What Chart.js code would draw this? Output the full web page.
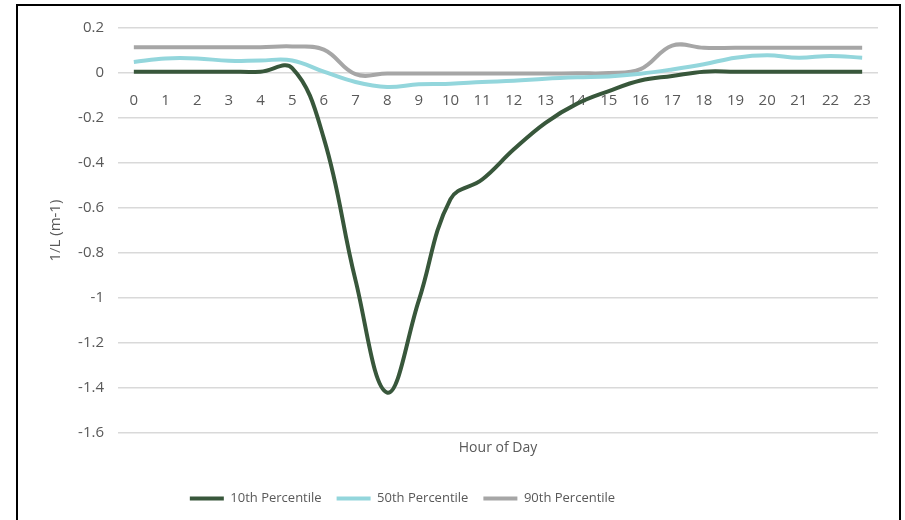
<!DOCTYPE html>
<html>
<head>
<meta charset="utf-8">
<script src="https://cdn.jsdelivr.net/npm/chart.js@4.4.1/dist/chart.umd.min.js"></script>
<style>
  html, body { margin: 0; padding: 0; background: #fff; }
  #wrap { position: relative; width: 905px; height: 520px; overflow: hidden; }
  #frame { position: absolute; left: 16px; top: 4px; width: 881px; height: 540px; border: 2px solid #000; }
  #box { position: absolute; left: 0; top: 0; width: 905px; height: 520px; }
</style>
</head>
<body>
<div id="wrap">
  <div id="frame"></div>
  <div id="box"><canvas id="myChart" width="905" height="520"></canvas></div>
</div>
<script>
// hours on the x axis
const hours = ['0','1','2','3','4','5','6','7','8','9','10','11','12','13','14','15','16','17','18','19','20','21','22','23'];

// 1/L values
const p10 = [0.006, 0.006, 0.006, 0.006, 0.006, 0.022, -0.29, -0.92, -1.42, -1.01, -0.56, -0.473, -0.339, -0.221, -0.136, -0.08, -0.033, -0.013, 0.006, 0.006, 0.006, 0.006, 0.006, 0.006];
const p50 = [0.049, 0.065, 0.065, 0.054, 0.056, 0.056, 0.006, -0.04, -0.062, -0.05, -0.048, -0.04, -0.034, -0.025, -0.019, -0.015, -0.003, 0.016, 0.039, 0.068, 0.079, 0.068, 0.076, 0.068];
const p90 = [0.115, 0.115, 0.115, 0.115, 0.115, 0.118, 0.104, -0.005, -0.002, -0.002, -0.002, -0.002, -0.002, -0.002, -0.001, 0.0, 0.017, 0.122, 0.112, 0.112, 0.112, 0.112, 0.112, 0.112];

const yTicks = [0.2, 0, -0.2, -0.4, -0.6, -0.8, -1, -1.2, -1.4, -1.6];

const textColor = '#595959';
const fontFam = "'Open Sans', sans-serif";

function series(label, values, color) {
  return {
    label: label,
    data: values,
    borderColor: color,
    backgroundColor: color,
    borderWidth: 4,
    pointRadius: 0,
    pointStyle: 'line',
    tension: 0.4,
    xAxisID: 'x'
  };
}

// the legend in the original sits left of centre
const legendShift = {
  id: 'legendShift',
  afterLayout(chart) {
    chart.legend.left -= 60;
    chart.legend.right -= 60;
  }
};

const config = {
  type: 'line',
  data: {
    labels: hours,
    datasets: [
      series('10th Percentile', p10, '#38573b'),
      series('50th Percentile', p50, '#93d6dc'),
      series('90th Percentile', p90, '#a6a6a6')
    ]
  },
  options: {
    responsive: false,
    animation: false,
    layout: { padding: { left: 47, right: 27, top: 28, bottom: 5 } },
    plugins: {
      tooltip: { enabled: false },
      legend: {
        position: 'bottom',
        labels: {
          usePointStyle: true,
          pointStyle: 'line',
          pointStyleWidth: 34,
          boxHeight: 13,
          padding: 15,
          color: textColor,
          font: { family: fontFam, size: 13 }
        }
      }
    },
    scales: {
      y: {
        min: -1.6,
        max: 0.2,
        afterBuildTicks: function (scale) {
          scale.ticks = yTicks.map(v => ({ value: v }));
        },
        afterFit: function (scale) { scale.width = 71; },
        grid: { color: '#d9d9d9', lineWidth: 1.5, drawTicks: false },
        border: { display: false },
        ticks: {
          color: textColor,
          padding: 14,
          font: { family: fontFam, size: 15 },
          callback: v => String(Math.round(v * 10) / 10)
        },
        title: {
          display: true,
          text: '1/L (m-1)',
          color: textColor,
          padding: { top: 0, bottom: 4 },
          font: { family: fontFam, size: 15 }
        }
      },
      x: {
        type: 'category',
        position: { y: 0 },
        offset: true,
        grid: { display: false },
        border: { display: false },
        ticks: {
          color: textColor,
          padding: 11,
          maxRotation: 0,
          autoSkip: false,
          font: { family: fontFam, size: 15 }
        }
      },
      x2: {
        type: 'category',
        labels: hours,
        position: 'bottom',
        offset: true,
        grid: { display: false, drawTicks: false },
        border: { display: false },
        ticks: { display: false },
        title: {
          display: true,
          text: 'Hour of Day',
          color: textColor,
          padding: { top: 6, bottom: 21 },
          font: { family: fontFam, size: 14 }
        }
      }
    }
  },
  plugins: [legendShift]
};

const myChart = new Chart(document.getElementById('myChart'), config);
</script>
</body>
</html>
